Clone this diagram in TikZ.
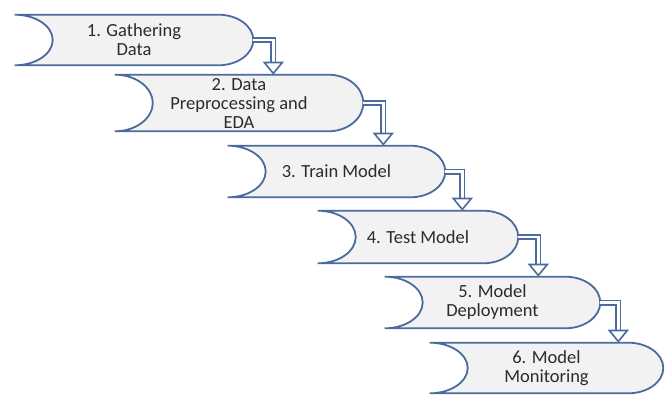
\documentclass[tikz,border=0pt]{standalone}
\usepackage{fontspec}
\setmainfont{Carlito}
\usepackage{tikz}
\usetikzlibrary{arrows.meta,calc,backgrounds}
\definecolor{edgeblue}{HTML}{4A6B9C}
\definecolor{boxgray}{HTML}{F2F2F2}
\definecolor{txt}{HTML}{2B2B2B}
\newcommand\RL{38pt}
\newcommand\RR{35pt}

\begin{document}
\begin{tikzpicture}[x=1pt,y=-1pt,semithick,
                    every node/.style={font=\fontsize{18.5}{19}\selectfont,text=txt,align=center}]

  \tikzstyle{stage}=[inner sep=0pt]
  \tikzstyle{stagebox}=[draw=edgeblue,fill=boxgray,line width=1.8pt]
  \tikzstyle{flow}=[draw=edgeblue,line width=1.6pt,double=white,double distance=2.8pt,
                    -{Triangle[open,fill=white,length=13pt,width=21pt]}]

  \useasboundingbox (0,0) rectangle (670,396);

  \node[stage,minimum width=238,minimum height=50] (b1) at (134,40)    {1. Gathering\\Data};
  \node[stage,minimum width=248,minimum height=56] (b2) at (239,103)   {2. Data\\Preprocessing and\\EDA};
  \node[stage,minimum width=217,minimum height=51] (b3) at (336.5,171.5) {3. Train Model};
  \node[stage,minimum width=200,minimum height=52] (b4) at (418,237)   {4. Test Model};
  \node[stage,minimum width=215,minimum height=51] (b5) at (492.5,302.5) {5. Model\\Deployment};
  \node[stage,minimum width=233,minimum height=50] (b6) at (546.5,368) {6. Model\\Monitoring};

  \begin{scope}[on background layer]
    \foreach \b in {b1,b2,b3,b4,b5,b6}
      \path[stagebox] let \p1=(\b.north), \p2=(\b.south), \n1={(\y1-\y2)/2} in
        (\b.north west) arc[start angle=90,end angle=-90,x radius=\RL,y radius=\n1]
        -- ($(\b.south east)+(-\RR,0)$)
        arc[start angle=-90,end angle=90,x radius=\RR,y radius=\n1] -- cycle;
  \end{scope}

  \draw[flow] (b1.east) -- ++(20pt,0) coordinate (k1) -- (k1 |- b2.north);
  \draw[flow] (b2.east) -- ++(20pt,0) coordinate (k2) -- (k2 |- b3.north);
  \draw[flow] (b3.east) -- ++(17pt,0) coordinate (k3) -- (k3 |- b4.north);
  \draw[flow] (b4.east) -- ++(20pt,0) coordinate (k4) -- (k4 |- b5.north);
  \draw[flow] (b5.east) -- ++(18pt,0) coordinate (k5) -- (k5 |- b6.north);

\end{tikzpicture}
\end{document}
